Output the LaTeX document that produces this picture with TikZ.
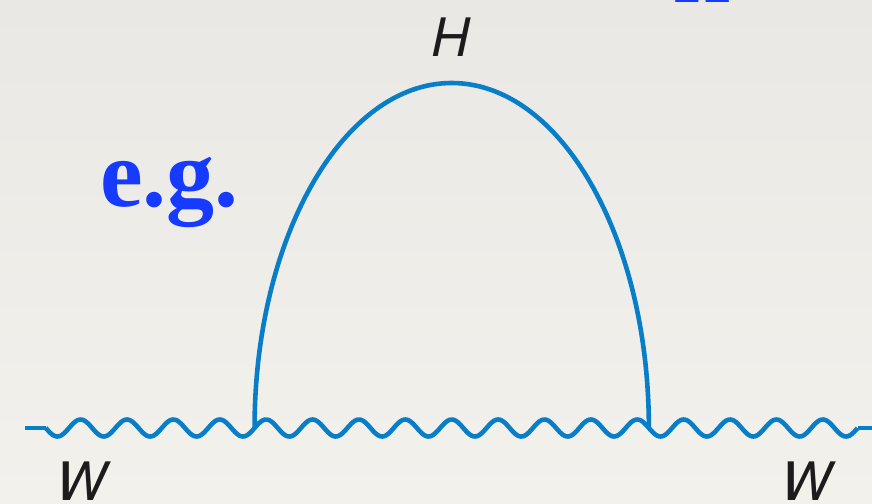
\documentclass[tikz,border=0pt]{standalone}
\usepackage{fontspec}
\newfontfamily\herosfont{TeX Gyre Heros}
\newfontfamily\libserif{Liberation Serif}
\definecolor{lineblue}{RGB}{8,126,200}
\definecolor{egblue}{RGB}{22,58,255}
\definecolor{bgtop}{RGB}{234,232,228}
\definecolor{bgbot}{RGB}{243,241,236}
\definecolor{labelink}{RGB}{28,28,28}
\tikzset{
  prop/.style={draw=lineblue, line width=4.6pt, line join=round},
  lbl/.style={inner sep=0pt, text=labelink, font=\herosfont\itshape\fontsize{53}{60}\selectfont, anchor=base},
  eg/.style={inner sep=0pt, text=egblue, font=\libserif\bfseries\fontsize{96}{100}\selectfont, anchor=base west},
  cutH/.style={inner sep=0pt, text=egblue, font=\libserif\bfseries\fontsize{72}{80}\selectfont, anchor=base}
}
\begin{document}
\begin{tikzpicture}[x=1pt,y=-1pt]
\useasboundingbox (0,0) rectangle (872,503);
\shade[top color=bgtop, bottom color=bgbot] (0,0) rectangle (872,503);
% endpoints and vertices
\coordinate (inW) at (25,428);
\coordinate (w0) at (45.8,428);
\coordinate (w1) at (857.6,428);
\coordinate (outW) at (872,428);
\coordinate (v1) at (254.56,428);
\coordinate (v2) at (648.87,428);
% W line
\draw[prop] (inW) -- (w0);
\draw[prop] plot[variable=\t, domain=0:17.5, samples=500, smooth] ({45.8+46.39*\t}, {428 + 8.5*sin(360*\t)});
\draw[prop] (w1) -- (outW);
% Higgs loop
\draw[prop] (v1) arc[start angle=180, end angle=0, x radius=197.155pt, y radius=345pt];
% labels
\node[lbl] (hlabel) at (450.5,56.7) {H};
\node[lbl] (wleft) at (82,500.5) {W};
\node[lbl] (wright) at (807,500.5) {W};
\node[eg] (eglabel) at (100,206) {e.g.};
\node[cutH] (topH) at (702,2.5) {H};
\end{tikzpicture}
\end{document}
